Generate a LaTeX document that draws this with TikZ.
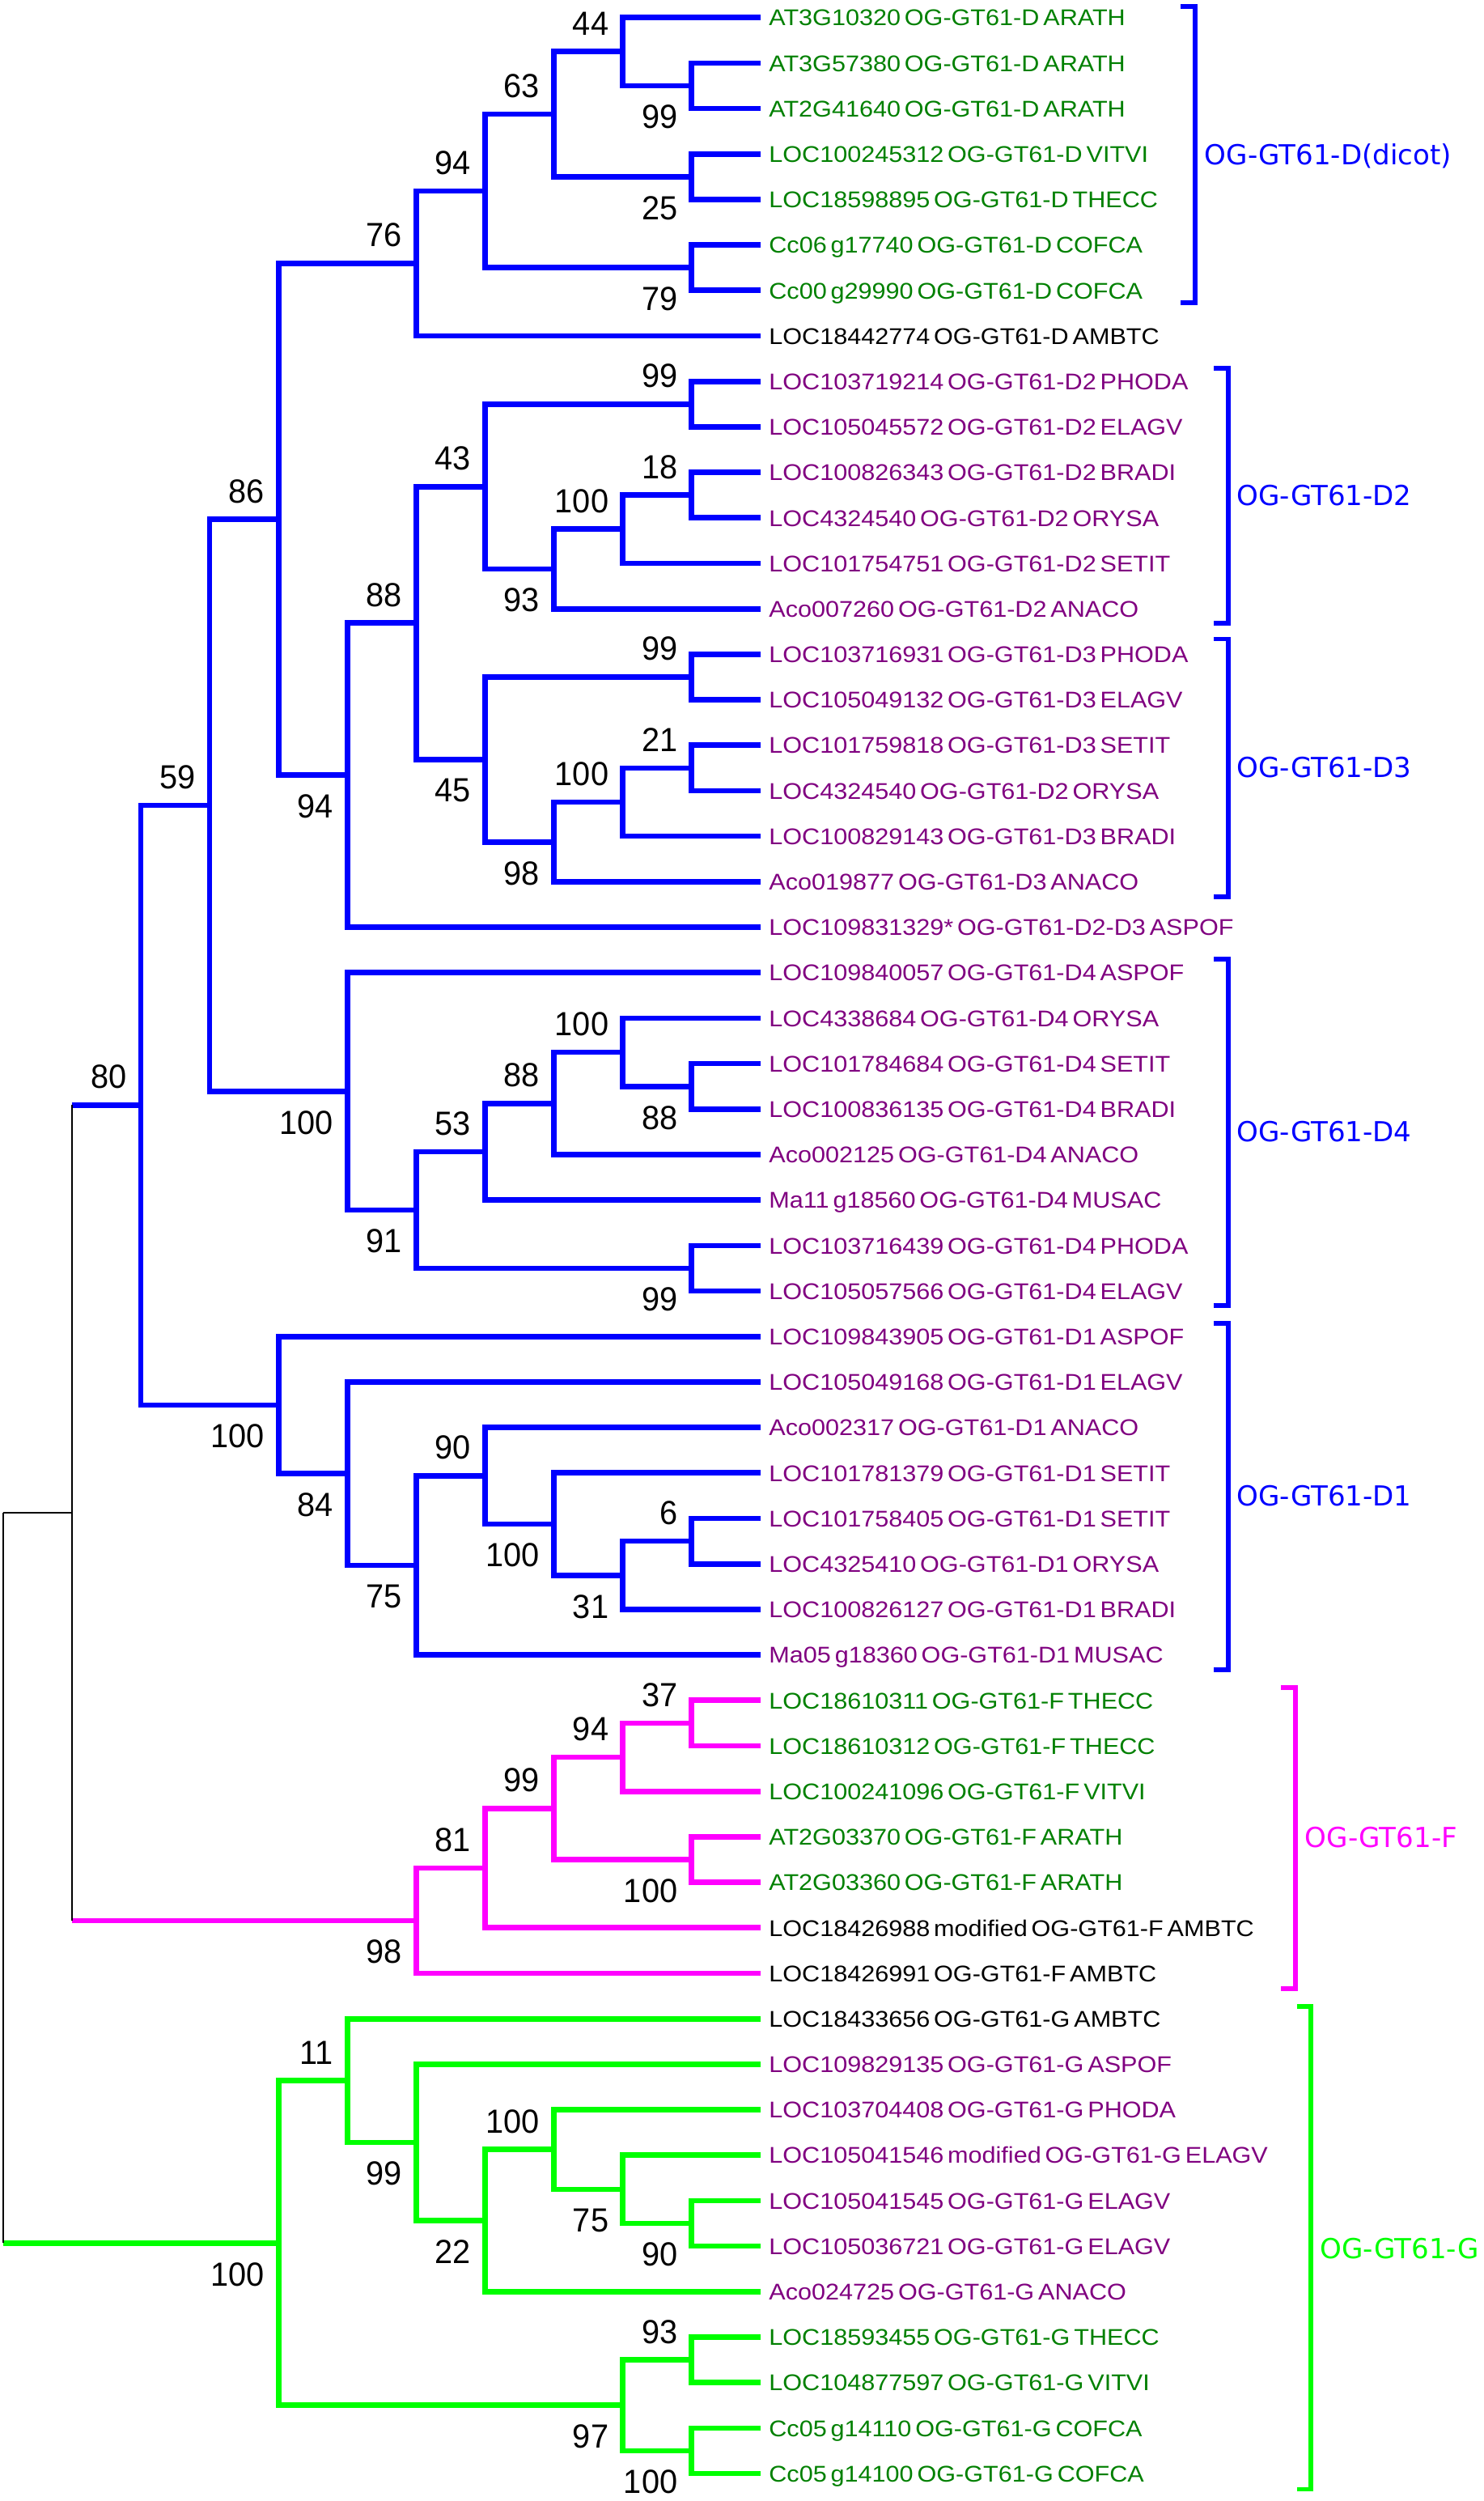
\documentclass[tikz,border=0pt]{standalone}
\usepackage{fontspec}
\setmainfont{Liberation Sans}
\newfontfamily\leaffam{Liberation Sans}[FakeStretch=1.09]
\newfontfamily\numfam{Liberation Sans}[FakeStretch=0.96]
\newfontfamily\cladefam{DejaVu Sans}
\usetikzlibrary{calc}
\definecolor{cblue}{RGB}{0,0,255}
\definecolor{cmag}{RGB}{255,0,255}
\definecolor{cgreen}{RGB}{0,255,0}
\definecolor{dgreen}{RGB}{0,128,0}
\definecolor{purp}{RGB}{128,0,128}
\newcommand\leaffont{\leaffam\fontsize{14.25}{16}\selectfont\spaceskip=2.5pt\relax}
\newcommand\numfont{\numfam\fontsize{21}{24}\selectfont}
\newcommand\cladefont{\cladefam\fontsize{17.3}{20}\selectfont}
\tikzset{
  bl/.style={draw=cblue, line width=3.4pt},
  mg/.style={draw=cmag, line width=3.4pt},
  gr/.style={draw=cgreen, line width=3.4pt},
  blk/.style={draw=black, line width=0.9pt},
  brk/.style={line width=3pt},
  leaftext/.style={anchor=base west, inner sep=0pt, font=\leaffont},
  bsup/.style={anchor=south east, inner sep=0pt, font=\numfont},
  bsdn/.style={anchor=north east, inner sep=0pt, font=\numfont},
  cladelab/.style={anchor=base west, inner sep=0pt, font=\cladefont},
}
% leaf: index, colour, text
\newcommand\leaf[3]{%
  \coordinate (l#1) at (477.2,{11+28.54*(#1-1)});
  \node[leaftext, text=#2] (t#1) at (482.5,{16.2+28.54*(#1-1)}) {#3};}
% branch: style, parent, child1, child2
\newcommand\br[4]{\draw[#1] (#3) -| (#2) |- (#4);}
\newcommand\bsu[2]{\node[bsup] (u#1) at ($(#1)+(-8.6,-10)$) {#2};}
\newcommand\bsd[2]{\node[bsdn] (d#1) at ($(#1)+(-8.6,12)$) {#2};}
\begin{document}
\begin{tikzpicture}[x=1pt,y=-1pt]
\useasboundingbox (0,0) rectangle (931,1569.4);
% leaves
\leaf{1}{dgreen}{AT3G10320 OG-GT61-D ARATH}
\leaf{2}{dgreen}{AT3G57380 OG-GT61-D ARATH}
\leaf{3}{dgreen}{AT2G41640 OG-GT61-D ARATH}
\leaf{4}{dgreen}{LOC100245312 OG-GT61-D VITVI}
\leaf{5}{dgreen}{LOC18598895 OG-GT61-D THECC}
\leaf{6}{dgreen}{Cc06 g17740 OG-GT61-D COFCA}
\leaf{7}{dgreen}{Cc00 g29990 OG-GT61-D COFCA}
\leaf{8}{black}{LOC18442774 OG-GT61-D AMBTC}
\leaf{9}{purp}{LOC103719214 OG-GT61-D2 PHODA}
\leaf{10}{purp}{LOC105045572 OG-GT61-D2 ELAGV}
\leaf{11}{purp}{LOC100826343 OG-GT61-D2 BRADI}
\leaf{12}{purp}{LOC4324540 OG-GT61-D2 ORYSA}
\leaf{13}{purp}{LOC101754751 OG-GT61-D2 SETIT}
\leaf{14}{purp}{Aco007260 OG-GT61-D2 ANACO}
\leaf{15}{purp}{LOC103716931 OG-GT61-D3 PHODA}
\leaf{16}{purp}{LOC105049132 OG-GT61-D3 ELAGV}
\leaf{17}{purp}{LOC101759818 OG-GT61-D3 SETIT}
\leaf{18}{purp}{LOC4324540 OG-GT61-D2 ORYSA}
\leaf{19}{purp}{LOC100829143 OG-GT61-D3 BRADI}
\leaf{20}{purp}{Aco019877 OG-GT61-D3 ANACO}
\leaf{21}{purp}{LOC109831329* OG-GT61-D2-D3 ASPOF}
\leaf{22}{purp}{LOC109840057 OG-GT61-D4 ASPOF}
\leaf{23}{purp}{LOC4338684 OG-GT61-D4 ORYSA}
\leaf{24}{purp}{LOC101784684 OG-GT61-D4 SETIT}
\leaf{25}{purp}{LOC100836135 OG-GT61-D4 BRADI}
\leaf{26}{purp}{Aco002125 OG-GT61-D4 ANACO}
\leaf{27}{purp}{Ma11 g18560 OG-GT61-D4 MUSAC}
\leaf{28}{purp}{LOC103716439 OG-GT61-D4 PHODA}
\leaf{29}{purp}{LOC105057566 OG-GT61-D4 ELAGV}
\leaf{30}{purp}{LOC109843905 OG-GT61-D1 ASPOF}
\leaf{31}{purp}{LOC105049168 OG-GT61-D1 ELAGV}
\leaf{32}{purp}{Aco002317 OG-GT61-D1 ANACO}
\leaf{33}{purp}{LOC101781379 OG-GT61-D1 SETIT}
\leaf{34}{purp}{LOC101758405 OG-GT61-D1 SETIT}
\leaf{35}{purp}{LOC4325410 OG-GT61-D1 ORYSA}
\leaf{36}{purp}{LOC100826127 OG-GT61-D1 BRADI}
\leaf{37}{purp}{Ma05 g18360 OG-GT61-D1 MUSAC}
\leaf{38}{dgreen}{LOC18610311 OG-GT61-F THECC}
\leaf{39}{dgreen}{LOC18610312 OG-GT61-F THECC}
\leaf{40}{dgreen}{LOC100241096 OG-GT61-F VITVI}
\leaf{41}{dgreen}{AT2G03370 OG-GT61-F ARATH}
\leaf{42}{dgreen}{AT2G03360 OG-GT61-F ARATH}
\leaf{43}{black}{LOC18426988 modified OG-GT61-F AMBTC}
\leaf{44}{black}{LOC18426991 OG-GT61-F AMBTC}
\leaf{45}{black}{LOC18433656 OG-GT61-G AMBTC}
\leaf{46}{purp}{LOC109829135 OG-GT61-G ASPOF}
\leaf{47}{purp}{LOC103704408 OG-GT61-G PHODA}
\leaf{48}{purp}{LOC105041546 modified OG-GT61-G ELAGV}
\leaf{49}{purp}{LOC105041545 OG-GT61-G ELAGV}
\leaf{50}{purp}{LOC105036721 OG-GT61-G ELAGV}
\leaf{51}{purp}{Aco024725 OG-GT61-G ANACO}
\leaf{52}{dgreen}{LOC18593455 OG-GT61-G THECC}
\leaf{53}{dgreen}{LOC104877597 OG-GT61-G VITVI}
\leaf{54}{dgreen}{Cc05 g14110 OG-GT61-G COFCA}
\leaf{55}{dgreen}{Cc05 g14100 OG-GT61-G COFCA}
% internal nodes
\coordinate (n23) at (434,53.81);
\coordinate (n44) at (390.8,32.41);
\coordinate (n45) at (434,110.89);
\coordinate (n63) at (347.6,71.65);
\coordinate (n67) at (434,167.97);
\coordinate (n94) at (304.4,119.81);
\coordinate (n76) at (261.2,165.30);
\coordinate (n99a) at (434,253.59);
\coordinate (n18) at (434,310.67);
\coordinate (n100a) at (390.8,332.08);
\coordinate (n93) at (347.6,357.05);
\coordinate (n43) at (304.4,305.32);
\coordinate (n99b) at (434,424.83);
\coordinate (n21) at (434,481.91);
\coordinate (n100b) at (390.8,503.32);
\coordinate (n98) at (347.6,528.29);
\coordinate (n45b) at (304.4,476.56);
\coordinate (n88) at (261.2,390.94);
\coordinate (n94b) at (218,486.37);
\coordinate (n86) at (174.8,325.84);
\coordinate (n88c) at (434,681.69);
\coordinate (n100d) at (390.8,660.29);
\coordinate (n88b) at (347.6,692.40);
\coordinate (n53) at (304.4,722.72);
\coordinate (n99c) at (434,795.85);
\coordinate (n91) at (261.2,759.29);
\coordinate (n100c) at (218,684.81);
\coordinate (n59) at (131.6,505.33);
\coordinate (n6) at (434,967.09);
\coordinate (n31) at (390.8,988.50);
\coordinate (n100f) at (347.6,956.39);
\coordinate (n90) at (304.4,926.07);
\coordinate (n75) at (261.2,982.25);
\coordinate (n84) at (218,924.73);
\coordinate (n100e) at (174.8,881.69);
\coordinate (n80) at (88.4,693.51);
\coordinate (n37) at (434,1081.25);
\coordinate (n94c) at (390.8,1102.66);
\coordinate (n100g) at (434,1166.87);
\coordinate (n99d) at (347.6,1134.77);
\coordinate (n81) at (304.4,1172.22);
\coordinate (n98b) at (261.2,1205.22);
\coordinate (nblk) at (45.2,949.37);
\coordinate (n90b) at (434,1395.19);
\coordinate (n75b) at (390.8,1373.79);
\coordinate (n100h) at (347.6,1348.82);
\coordinate (n22) at (304.4,1393.41);
\coordinate (n99e) at (261.2,1344.36);
\coordinate (n11) at (218,1305.56);
\coordinate (n93b) at (434,1480.81);
\coordinate (n100i) at (434,1537.89);
\coordinate (n97) at (390.8,1509.35);
\coordinate (n100j) at (174.8,1407.46);
\coordinate (root) at (2,1178.4);
% D clades (blue)
\br{bl}{n23}{l2}{l3}
\br{bl}{n44}{l1}{n23}
\br{bl}{n45}{l4}{l5}
\br{bl}{n63}{n44}{n45}
\br{bl}{n67}{l6}{l7}
\br{bl}{n94}{n63}{n67}
\br{bl}{n76}{n94}{l8}
\br{bl}{n99a}{l9}{l10}
\br{bl}{n18}{l11}{l12}
\br{bl}{n100a}{n18}{l13}
\br{bl}{n93}{n100a}{l14}
\br{bl}{n43}{n99a}{n93}
\br{bl}{n99b}{l15}{l16}
\br{bl}{n21}{l17}{l18}
\br{bl}{n100b}{n21}{l19}
\br{bl}{n98}{n100b}{l20}
\br{bl}{n45b}{n99b}{n98}
\br{bl}{n88}{n43}{n45b}
\br{bl}{n94b}{n88}{l21}
\br{bl}{n86}{n76}{n94b}
\br{bl}{n88c}{l24}{l25}
\br{bl}{n100d}{l23}{n88c}
\br{bl}{n88b}{n100d}{l26}
\br{bl}{n53}{n88b}{l27}
\br{bl}{n99c}{l28}{l29}
\br{bl}{n91}{n53}{n99c}
\br{bl}{n100c}{l22}{n91}
\br{bl}{n59}{n86}{n100c}
\br{bl}{n6}{l34}{l35}
\br{bl}{n31}{n6}{l36}
\br{bl}{n100f}{l33}{n31}
\br{bl}{n90}{l32}{n100f}
\br{bl}{n75}{n90}{l37}
\br{bl}{n84}{l31}{n75}
\br{bl}{n100e}{l30}{n84}
\br{bl}{n80}{n59}{n100e}
% F clade (magenta)
\br{mg}{n37}{l38}{l39}
\br{mg}{n94c}{n37}{l40}
\br{mg}{n100g}{l41}{l42}
\br{mg}{n99d}{n94c}{n100g}
\br{mg}{n81}{n99d}{l43}
\br{mg}{n98b}{n81}{l44}
% G clade (green)
\br{gr}{n90b}{l49}{l50}
\br{gr}{n75b}{l48}{n90b}
\br{gr}{n100h}{l47}{n75b}
\br{gr}{n22}{n100h}{l51}
\br{gr}{n99e}{l46}{n22}
\br{gr}{n11}{l45}{n99e}
\br{gr}{n93b}{l52}{l53}
\br{gr}{n100i}{l54}{l55}
\br{gr}{n97}{n93b}{n100i}
\br{gr}{n100j}{n11}{n97}
% connections to the black backbone
\draw[bl] (nblk |- n80) -- (n80);
\draw[mg] (nblk |- n98b) -- (n98b);
\draw[gr] (root |- n100j) -- (n100j);
\draw[blk] (nblk |- n80) -- (nblk |- n98b);
\draw[blk] (root |- nblk) -- (nblk);
\draw[blk] (root |- nblk) -- (root |- n100j);
% support values
\bsd{n23}{99} \bsu{n44}{44} \bsd{n45}{25} \bsu{n63}{63} \bsd{n67}{79}
\bsu{n94}{94} \bsu{n76}{76} \bsu{n99a}{99} \bsu{n18}{18} \bsu{n100a}{100}
\bsd{n93}{93} \bsu{n43}{43} \bsu{n99b}{99} \bsu{n21}{21} \bsu{n100b}{100}
\bsd{n98}{98} \bsd{n45b}{45} \bsu{n88}{88} \bsd{n94b}{94} \bsu{n86}{86}
\bsd{n88c}{88} \bsu{n100d}{100} \bsu{n88b}{88} \bsu{n53}{53} \bsd{n99c}{99}
\bsd{n91}{91} \bsd{n100c}{100} \bsu{n59}{59} \bsu{n6}{6} \bsd{n31}{31}
\bsd{n100f}{100} \bsu{n90}{90} \bsd{n75}{75} \bsd{n84}{84} \bsd{n100e}{100}
\bsu{n80}{80} \bsu{n37}{37} \bsu{n94c}{94} \bsd{n100g}{100} \bsu{n99d}{99}
\bsu{n81}{81} \bsd{n98b}{98} \bsd{n90b}{90} \bsd{n75b}{75} \bsu{n100h}{100}
\bsd{n22}{22} \bsd{n99e}{99} \bsu{n11}{11} \bsu{n93b}{93} \bsd{n100i}{100}
\bsd{n97}{97} \bsd{n100j}{100}
% brackets
\draw[brk, cblue] (741,4) -- (750,4) -- (750,190) -- (741,190);
\node[cladelab, text=cblue] (c1) at (756,103.3) {OG-GT61-D(dicot)};
\draw[brk, cblue] (762,231) -- (771,231) -- (771,391) -- (762,391);
\node[cladelab, text=cblue] (c2) at (776,317.3) {OG-GT61-D2};
\draw[brk, cblue] (762,401) -- (771,401) -- (771,562.7) -- (762,562.7);
\node[cladelab, text=cblue] (c3) at (776,487.8) {OG-GT61-D3};
\draw[brk, cblue] (762,602) -- (771,602) -- (771,819) -- (762,819);
\node[cladelab, text=cblue] (c4) at (776,716.3) {OG-GT61-D4};
\draw[brk, cblue] (762,830.6) -- (771,830.6) -- (771,1047.7) -- (762,1047.7);
\node[cladelab, text=cblue] (c5) at (776,944.9) {OG-GT61-D1};
\draw[brk, cmag] (804,1059) -- (813,1059) -- (813,1248) -- (804,1248);
\node[cladelab, text=cmag] (c6) at (819,1159.3) {OG-GT61-F};
\draw[brk, cgreen] (814,1259) -- (823,1259) -- (823,1562) -- (814,1562);
\node[cladelab, text=cgreen] (c7) at (828.5,1417.3) {OG-GT61-G};
\end{tikzpicture}
\end{document}
